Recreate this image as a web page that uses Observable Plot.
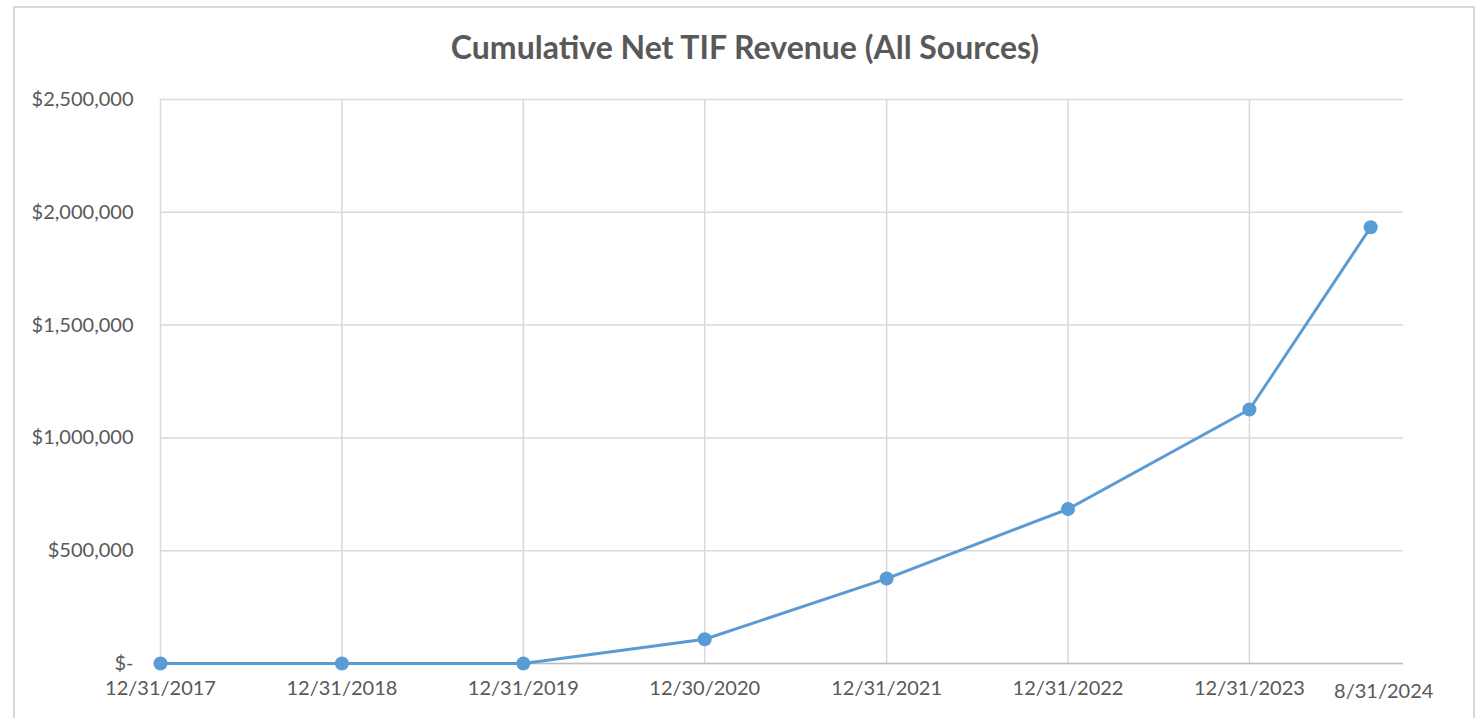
<!DOCTYPE html>
<html>
<head>
<meta charset="utf-8">
<script src="https://cdn.jsdelivr.net/npm/d3@7"></script>
<script src="https://cdn.jsdelivr.net/npm/@observablehq/plot@0.6"></script>
<style>
  html, body { margin: 0; padding: 0; background: #fff; }
  body { width: 1482px; height: 718px; position: relative; overflow: hidden; }
  #frame { position: absolute; left: 13px; top: 6px; width: 1462px; height: 740px; border: 2px solid #d9d9d9; box-sizing: border-box; }
  #title { position: absolute; left: 0; width: 1490px; top: 31px; text-align: center; font-family: Lato, "Open Sans", sans-serif; font-weight: bold; font-size: 32px; line-height: 1; color: #595959; }
  #chart { position: absolute; left: 0; top: 80px; }
</style>
</head>
<body>
<div id="frame"></div>
<div id="title">Cumulative Net TIF Revenue (All Sources)</div>
<div id="chart"></div>
<script>
const dates = ["2017-12-31", "2018-12-31", "2019-12-31", "2020-12-30", "2021-12-31", "2022-12-31", "2023-12-31", "2024-08-31"];
const values = [0, 0, 0, 107500, 376500, 684700, 1125700, 1933800];
const xTickLabels = ["12/31/2017", "12/31/2018", "12/31/2019", "12/30/2020", "12/31/2021", "12/31/2022", "12/31/2023", "8/31/2024"];
const gridDates = ["2017-12-31", "2018-12-31", "2019-12-31", "2020-12-30", "2021-12-31", "2022-12-31", "2023-12-31"];
const yTicks = [0, 500000, 1000000, 1500000, 2000000, 2500000];
const xDomain = ["2017-12-31", "2024-11-05"];

const parse = d3.utcParse("%Y-%m-%d");
const data = dates.map((d, i) => ({date: parse(d), value: values[i]}));
const tickDates = dates.map(parse);
const labelOf = new Map(tickDates.map((d, i) => [+d, xTickLabels[i]]));
const fmtY = v => v === 0 ? "$-" : d3.format("$,")(v);

const chart = Plot.plot({
  width: 1482,
  height: 638,
  marginLeft: 160,
  marginRight: 79,
  marginTop: 19,
  marginBottom: 55,
  style: {fontFamily: "Lato, 'Open Sans', sans-serif", fontSize: "20px", color: "#595959", background: "transparent"},
  x: {type: "utc", domain: xDomain.map(parse)},
  y: {domain: [0, 2500000]},
  marks: [
    Plot.gridX(gridDates.map(parse), {stroke: "#d9d9d9", strokeOpacity: 1, strokeWidth: 1.5}),
    Plot.gridY(yTicks, {stroke: "#d9d9d9", strokeOpacity: 1, strokeWidth: 1.5}),
    Plot.ruleY([0], {stroke: "#bfbfbf", strokeWidth: 1.5}),
    Plot.axisY({ticks: yTicks, tickFormat: fmtY, tickSize: 0, tickPadding: 27, label: null}),
    Plot.axisX({ticks: tickDates.slice(0, -1), tickFormat: d => labelOf.get(+d), tickSize: 0, tickPadding: 17, label: null}),
    Plot.axisX({ticks: tickDates.slice(-1), tickFormat: d => labelOf.get(+d), tickSize: 0, tickPadding: 20, dx: 13, label: null}),
    Plot.line(data, {x: "date", y: "value", stroke: "#5b9bd5", strokeWidth: 3}),
    Plot.dot(data, {x: "date", y: "value", fill: "#5b9bd5", r: 7})
  ]
});
document.getElementById("chart").appendChild(chart);
</script>
</body>
</html>
